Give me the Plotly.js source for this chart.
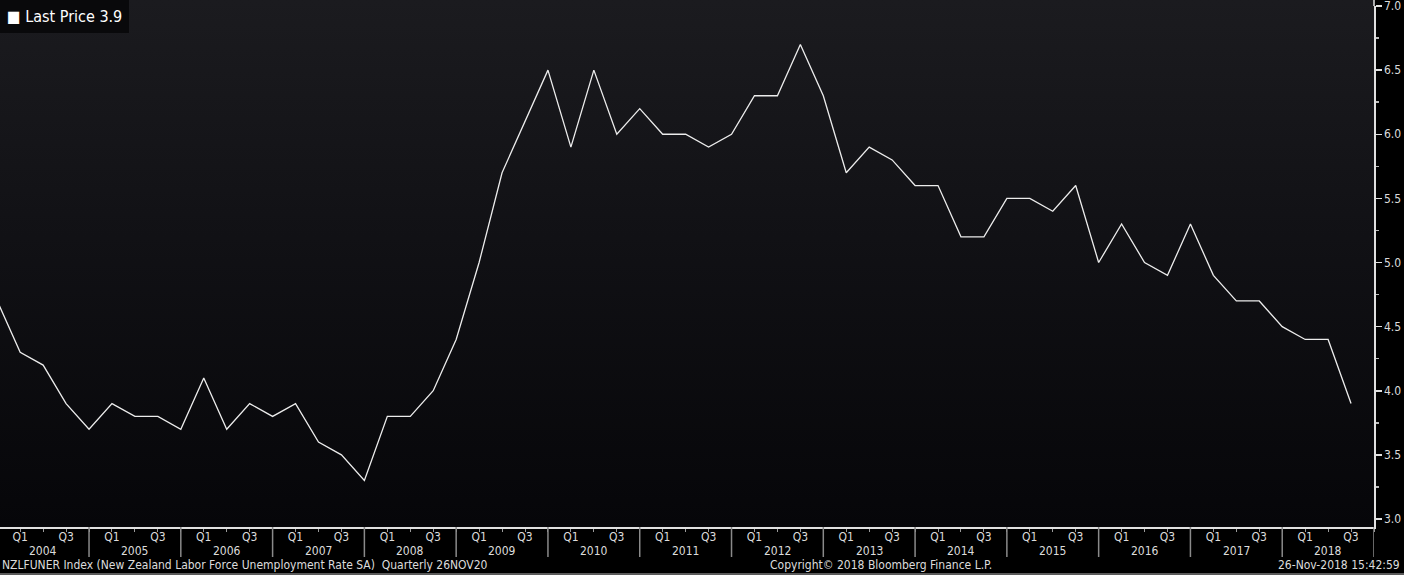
<!DOCTYPE html>
<html>
<head>
<meta charset="utf-8">
<script src="https://cdn.plot.ly/plotly-3.0.1.min.js"></script>
<style>
  html, body { margin: 0; padding: 0; background: #000; overflow: hidden; }
  #wrap { position: relative; width: 1404px; height: 575px; background: #000; }
  #bg { position: absolute; left: 0; top: 0; width: 1374px; height: 527px;
        background: linear-gradient(to bottom, #1b1b1f 0%, #111115 45%, #060609 100%); }
  #chart { position: absolute; left: 0; top: 0; width: 1404px; height: 575px; }
</style>
</head>
<body>
<div id="wrap">
  <div id="bg"></div>
  <div id="chart"></div>
</div>
<script>
// ---- data (NZ unemployment rate, quarterly, %) ----
const periods = [
  '2003Q4',
  '2004Q1','2004Q2','2004Q3','2004Q4',
  '2005Q1','2005Q2','2005Q3','2005Q4',
  '2006Q1','2006Q2','2006Q3','2006Q4',
  '2007Q1','2007Q2','2007Q3','2007Q4',
  '2008Q1','2008Q2','2008Q3','2008Q4',
  '2009Q1','2009Q2','2009Q3','2009Q4',
  '2010Q1','2010Q2','2010Q3','2010Q4',
  '2011Q1','2011Q2','2011Q3','2011Q4',
  '2012Q1','2012Q2','2012Q3','2012Q4',
  '2013Q1','2013Q2','2013Q3','2013Q4',
  '2014Q1','2014Q2','2014Q3','2014Q4',
  '2015Q1','2015Q2','2015Q3','2015Q4',
  '2016Q1','2016Q2','2016Q3','2016Q4',
  '2017Q1','2017Q2','2017Q3','2017Q4',
  '2018Q1','2018Q2','2018Q3'
];
const lastPrice = [
  4.7,
  4.3, 4.2, 3.9, 3.7,
  3.9, 3.8, 3.8, 3.7,
  4.1, 3.7, 3.9, 3.8,
  3.9, 3.6, 3.5, 3.3,
  3.8, 3.8, 4.0, 4.4,
  5.0, 5.7, 6.1, 6.5,
  5.9, 6.5, 6.0, 6.2,
  6.0, 6.0, 5.9, 6.0,
  6.3, 6.3, 6.7, 6.3,
  5.7, 5.9, 5.8, 5.6,
  5.6, 5.2, 5.2, 5.5,
  5.5, 5.4, 5.6, 5.0,
  5.3, 5.0, 4.9, 5.3,
  4.9, 4.7, 4.7, 4.5,
  4.4, 4.4, 3.9
];
const years = [2004,2005,2006,2007,2008,2009,2010,2011,2012,2013,2014,2015,2016,2017,2018];
const quarterTickText = ['Q1', '', 'Q3', ''];
const yTicks = [3.0, 3.5, 4.0, 4.5, 5.0, 5.5, 6.0, 6.5, 7.0];
const legendLabel = 'Last Price 3.9';
const footerLeft = 'NZLFUNER Index (New Zealand Labor Force Unemployment Rate SA)  Quarterly 26NOV20';
const footerMid = 'Copyright\u00a9 2018 Bloomberg Finance L.P.';
const footerRight = '26-Nov-2018 15:42:59';

// ---- helpers ----
function periodToX(p) {
  const y = parseInt(p.slice(0, 4), 10);
  const q = parseInt(p.slice(5), 10);
  return y + (q - 1) / 4;
}
const xs = periods.map(periodToX);

const tickvals = [], ticktext = [];
years.forEach(y => {
  quarterTickText.forEach((t, i) => { tickvals.push(y + i / 4); ticktext.push(t); });
});

const FONT = '"DejaVu Sans Condensed", "DejaVu Sans", "Liberation Sans", sans-serif';
const TXT = '#dcdcdc';
const TOP = 6, PLOT_H = 527 - TOP;

const shapes = [];
// year dividers at Q4 positions
years.forEach(y => {
  shapes.push({ type: 'line', xref: 'x', yref: 'paper', x0: y + 0.75, x1: y + 0.75,
    y0: 0, y1: -30 / PLOT_H, line: { color: '#8a8a8a', width: 1.5 } });
});
// right axis line continuing to the very top
shapes.push({ type: 'line', xref: 'paper', yref: 'paper', x0: 1, x1: 1,
  y0: 1, y1: 1 + TOP / PLOT_H, line: { color: '#e0e0e0', width: 1.5 } });
// bottom border strip
shapes.push({ type: 'line', xref: 'paper', yref: 'paper', x0: 0, x1: 1404/1374,
  y0: -(574-527)/PLOT_H, y1: -(574-527)/PLOT_H, line: { color: '#5a5a5a', width: 2 } });

const annotations = [];
years.forEach(y => {
  annotations.push({ x: y + 0.25, xref: 'x', y: 0, yref: 'paper', yshift: -24,
    xanchor: 'center', yanchor: 'middle', showarrow: false, text: String(y),
    font: { family: FONT, size: 12, color: TXT } });
});
annotations.push({ x: 0, xref: 'paper', y: 0, yref: 'paper', yshift: -38,
  xanchor: 'left', yanchor: 'middle', showarrow: false, text: footerLeft,
  font: { family: FONT, size: 12, color: TXT } });
annotations.push({ x: 768/1374, xref: 'paper', y: 0, yref: 'paper', yshift: -38,
  xanchor: 'left', yanchor: 'middle', showarrow: false, text: footerMid,
  font: { family: FONT, size: 12, color: TXT } });
annotations.push({ x: 1402/1374, xref: 'paper', y: 0, yref: 'paper', yshift: -38,
  xanchor: 'right', yanchor: 'middle', showarrow: false, text: footerRight,
  font: { family: FONT, size: 12, color: TXT } });
// legend box
annotations.push({ x: 0, xref: 'paper', y: 1, yref: 'paper', yshift: TOP,
  xanchor: 'left', yanchor: 'top', showarrow: false,
  text: '<span style="font-size:16px">\u25A0</span> ' + legendLabel,
  align: 'left', bgcolor: '#09090b', bordercolor: '#09090b', borderpad: 6,
  font: { family: FONT, size: 16, color: '#ffffff' } });

const trace = {
  type: 'scatter', mode: 'lines', x: xs, y: lastPrice,
  line: { color: '#ececec', width: 1.3 }, hoverinfo: 'skip', showlegend: false
};

const layout = {
  width: 1404, height: 575,
  margin: { l: 0, r: 30, t: TOP, b: 48, pad: 0 },
  paper_bgcolor: 'rgba(0,0,0,0)', plot_bgcolor: 'rgba(0,0,0,0)',
  showlegend: false,
  xaxis: {
    range: [2003.78, 2018.75], showgrid: false, zeroline: false,
    showline: true, linecolor: '#e0e0e0', linewidth: 1.5, mirror: false,
    tickmode: 'array', tickvals: tickvals, ticktext: ticktext,
    ticks: 'outside', ticklen: 3, tickcolor: '#9a9a9a', tickwidth: 1,
    tickangle: 0, ticklabelstandoff: -5,
    tickfont: { family: FONT, size: 12, color: TXT }, fixedrange: true
  },
  yaxis: {
    side: 'right', range: [2.9376, 7.0], showgrid: false, zeroline: false,
    showline: true, linecolor: '#e0e0e0', linewidth: 1.5,
    tickmode: 'array', tickvals: yTicks, ticktext: yTicks.map(v => v.toFixed(1)),
    ticks: 'outside', ticklen: 6, tickcolor: '#e0e0e0', tickwidth: 1.5,
    ticklabeloverflow: 'allow',
    minor: { dtick: 0.25, tick0: 3, ticks: 'outside', ticklen: 3, tickcolor: '#bbbbbb', showgrid: false },
    tickfont: { family: FONT, size: 12, color: TXT }, fixedrange: true
  },
  shapes: shapes,
  annotations: annotations
};

Plotly.newPlot('chart', [trace], layout, { staticPlot: true, displayModeBar: false });
</script>
</body>
</html>
